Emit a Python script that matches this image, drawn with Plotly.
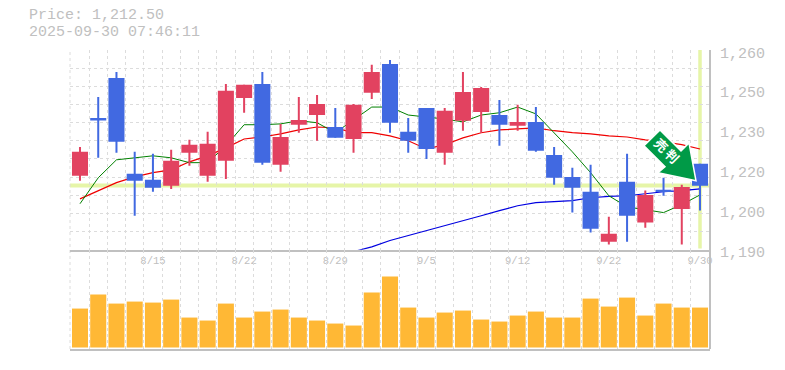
import plotly.graph_objects as go

dates = ["8/8","8/12","8/13","8/14","8/15","8/18","8/19","8/20","8/21","8/22","8/25","8/26","8/27","8/28","8/29",
         "9/1","9/2","9/3","9/4","9/5","9/8","9/9","9/10","9/11","9/12","9/16","9/17","9/18","9/19","9/22",
         "9/24","9/25","9/26","9/29","9/30"]
tick_dates = ["8/15","8/22","8/29","9/5","9/12","9/22","9/30"]

def P(y):
    return round(1190 + (250 - y) * 70 / 200, 1)

# values (as pixel rows on the reference's price scale)
top_y  = [147,97,72,152,154,150,140,132,84,85,72,124,97,95,108,104,65,60,118,108,108,72,87,100,105,107,147,168,165,217,154,191,178,185,164]
hi_b_y = [152,118,78,174,180,161,145,144,91,85,84,137,120,104,127,105,72,64,132,108,111,92,88,115,122,122,155,177,192,234,182,195,190,187,164]
lo_b_y = [176,120.5,142,181,188,186,153,176,161,98,163,165,125,115,138,139,93,123,141,149,153,121,112,125,126,151,178,188,229,242,216,223,192,209,186]
bot_y  = [181,158,153,216,192,189,166,182,179,113,165,172,133,141,138,153,99,133,153,159,165,131,133,146,131,152,185,213,233,245,242,228,196,245,211]
up     = [1,0,0,0,0,1,1,1,1,1,0,1,1,1,0,1,1,0,0,0,1,1,1,0,1,0,0,0,0,1,0,1,0,1,0]

high = [P(v) for v in top_y]
low = [P(v) for v in bot_y]
body_hi = [P(v) for v in hi_b_y]
body_lo = [P(v) for v in lo_b_y]

ma_short = [P(v) for v in [204,178,160,158,156,158,163,163,146,125,125,124,121,123,133,120,107,107,115,117,119,122,115,113,107,114,133,152,173,196,207,210,213,205,195]]
ma_mid = [P(v) for v in [199,191,183,177,173,170,162,156,148,139,137,134,130,127,128,133,133,136,141,149,145,138,133,130,129,128,131,133,134,136,137,140,142,145,149]]
ma_long = [None]*15 + [P(v) for v in [252,247,241,236,231,226,221,216,211,206,203,202,201,198,196.5,196,194,192,191,189]]
volume = [39,53,44,46,45,48,30,27,44,30,36,38,30,27,24,22,55,71,40,30,35,37,28,26,32,36,30,30,49,41,50,32,44,40,40]

price = 1212.5
stamp = "2025-09-30 07:46:11"
y_ticks = [1190,1204,1218,1232,1246,1260]
y_labels = ["1,190","1,200","1,220","1,230","1,250","1,260"]
grid_prices = [1190 + k * 70 / 11 for k in range(12)]

RED, BLUE, GRID, AXIS, TEXT, BAND = "#e24260", "#4169e1", "#dcdcdc", "#c0c0c0", "#c0c0c0", "#e6f5a8"
GREEN = "#009a47"
W, H = 785, 370
L, R, T, M, B = 70, 710, 50, 250, 349.5
FONT = "Liberation Mono"
ticktext = [d if d in tick_dates else "" for d in dates]
colors = [RED if u else BLUE for u in up]

fx = lambda px: (px - L) / (R - L)
fy = lambda py: (B - py) / (B - T)

fig = go.Figure()
base = dict(xaxis="x", yaxis="y")
top = dict(xaxis="x", yaxis="y3")
fig.add_trace(go.Scatter(x=dates, y=ma_long, mode="lines", line=dict(color="#0000e0", width=1.2), **base))
fig.add_trace(go.Scatter(x=dates, y=ma_mid, mode="lines", line=dict(color="#f00000", width=1.2), **base))
fig.add_trace(go.Scatter(x=dates, y=ma_short, mode="lines", line=dict(color="#008000", width=1), **base))
fig.add_trace(go.Bar(x=dates, y=[h-l for h,l in zip(high,low)], base=low, width=0.11, marker=dict(color=colors, line=dict(width=0)), **top))
fig.add_trace(go.Bar(x=dates, y=[h-l for h,l in zip(body_hi,body_lo)], base=body_lo, width=0.88, marker=dict(color=colors, line=dict(width=0)), **top))
fig.add_trace(go.Bar(x=dates, y=volume, marker=dict(color="#ffb835", line=dict(width=0)), width=0.88, xaxis="x2", yaxis="y2"))

common_x = dict(type="category", categoryorder="array", categoryarray=dates, domain=[0,1], range=[-0.548,34.548],
                tickmode="array", tickvals=dates, tickson="boundaries", ticks="", tickangle=0,
                showgrid=True, gridcolor=GRID, griddash="3px,3px", gridwidth=1,
                showline=True, linecolor=AXIS, linewidth=2, zeroline=False)
fig.update_layout(
    width=W, height=H, margin=dict(l=L, r=W-R, t=T, b=H-B, pad=0), paper_bgcolor="white", plot_bgcolor="white",
    showlegend=False, barmode="overlay",
    xaxis=dict(anchor="y", ticktext=ticktext, tickfont=dict(family=FONT, size=10.5, color=TEXT), **common_x),
    xaxis2=dict(anchor="y2", ticktext=[""]*len(dates), **common_x),
    yaxis=dict(domain=[fy(M),1], range=[1190,1260], anchor="x", side="right",
               tickmode="array", tickvals=grid_prices, ticktext=[""]*12, ticks="",
               showgrid=True, gridcolor=GRID, griddash="3px,3px", gridwidth=1, zeroline=False, showline=False),
    yaxis3=dict(domain=[fy(M),1], range=[1190,1260], anchor="x", overlaying="y", side="right",
                showticklabels=False, ticks="", showgrid=False, zeroline=False, showline=False),
    yaxis2=dict(domain=[0,fy(M)], range=[-1.5,98], anchor="x2", showticklabels=False, ticks="", showgrid=False, zeroline=False, showline=False),
)
# price labels sit a little under their tick rows
for v, lab in zip(y_ticks, y_labels):
    fig.add_annotation(text=lab, xref="paper", yref="y", x=fx(718), y=v, yshift=-4, xanchor="left", yanchor="middle",
                       showarrow=False, font=dict(family=FONT, size=15, color=TEXT))
# current-price and current-day bands, beneath the marks
fig.add_shape(type="line", xref="paper", yref="y", x0=0, x1=1, y0=price, y1=price, layer="below", line=dict(color=BAND, width=4))
fig.add_shape(type="line", xref="x", yref="y", x0=dates[-1], x1=dates[-1], y0=1190.4, y1=1260, layer="below", line=dict(color=BAND, width=3.5))
# frame
fig.add_shape(type="line", xref="paper", yref="paper", x0=1, x1=1, y0=0, y1=1, line=dict(color=AXIS, width=2))
fig.add_shape(type="line", xref="paper", yref="paper", x0=0, x1=0, y0=0, y1=1, layer="below", line=dict(color=GRID, width=1, dash="3px,3px"))

# arrow badge
arrow = [(660,130),(681,151),(689,143),(696,181),(658,173),(665,167),(644,146)]
path = "M " + " L ".join(f"{fx(a)},{fy(b)}" for a,b in arrow) + " Z"
fig.add_shape(type="path", xref="paper", yref="paper", path=path, fillcolor=GREEN, line=dict(color="white", width=1.5), layer="above")
for ch, (ax, ay) in zip("売判", [(661,145),(672,156)]):
    fig.add_annotation(text=ch, xref="paper", yref="paper", x=fx(ax), y=fy(ay), xanchor="center", yanchor="middle", textangle=45, showarrow=False,
                       font=dict(family="Noto Sans CJK JP", size=13, color="white", weight="bold"))

for txt, py in [(f"Price: {price:,.2f}", 15.5), (stamp, 32.5)]:
    fig.add_annotation(text=txt, xref="paper", yref="paper", x=fx(27), y=fy(py), xanchor="left", yanchor="middle",
                       align="left", showarrow=False, font=dict(family=FONT, size=15, color=TEXT))
fig.write_html("out.html", config=dict(displayModeBar=False), post_script="document.body.style.margin='0';")
